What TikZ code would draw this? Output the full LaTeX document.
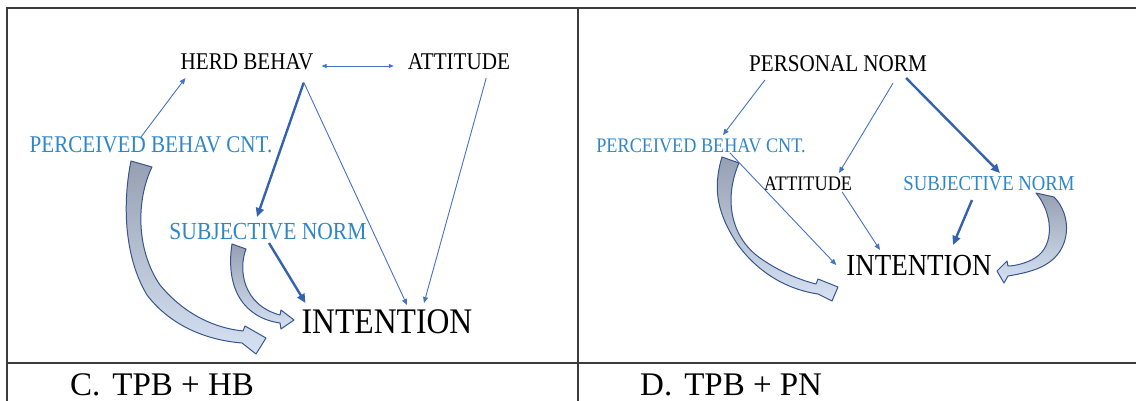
\documentclass[tikz,border=0pt]{standalone}
\usepackage{fontspec}
\setmainfont{Liberation Serif}
\newfontfamily\lblfont[FakeStretch=0.88]{Liberation Serif}
\usepackage{tikz}
\usetikzlibrary{arrows.meta, calc, backgrounds}
\definecolor{txtblue}{RGB}{46,134,200}
\definecolor{arrblue}{RGB}{68,114,196}
\definecolor{arrdark}{RGB}{52,98,174}
\definecolor{blkline}{RGB}{55,85,140}
\definecolor{blkgray}{RGB}{150,160,178}
\definecolor{blkblue}{RGB}{214,226,243}
\definecolor{framegray}{RGB}{60,60,60}
\newcommand{\lblsize}[1]{\fontsize{#1}{#1}\selectfont}
\tikzset{
    txt/.style={inner sep=0pt, anchor=base},
    blutxt/.style={txt, text=txtblue},
    frame/.style={draw=framegray, line width=1.2pt},
    arr/.style={draw=arrblue, line width=0.9pt, -{Triangle[length=6pt,width=5pt]}},
    dblarr/.style={draw=arrblue, line width=0.9pt, {Triangle[length=5pt,width=4pt]}-{Triangle[length=5pt,width=4pt]}},
    thickarr/.style={draw=arrdark, line width=2.4pt, -{Triangle[length=9pt,width=8pt]}},
    blockarr/.style={draw=blkline, line width=1pt, line join=round, top color=blkgray, bottom color=blkblue}
}

\begin{document}
\begin{tikzpicture}[x=1pt, y=-1pt]
    \useasboundingbox (0,0) rectangle (1136,401);

    % Frame
    \draw[frame] (7,401) -- (7,8) -- (1136,8);
    \draw[frame] (578,8) -- (578,401);
    \draw[frame] (7,363) -- (1136,363);

    % Panel C
    \node[txt, font={\lblfont\lblsize{24}}] (hbC) at (247,70) {HERD BEHAV};
    \node[txt, font={\lblfont\lblsize{24}}] (attC) at (459,70) {ATTITUDE};
    \node[blutxt, font={\lblfont\lblsize{24}}] (pbcC) at (151,153) {PERCEIVED BEHAV CNT.};
    \node[blutxt, font={\lblfont\lblsize{24.5}}] (snC) at (268,240) {SUBJECTIVE NORM};
    \node[txt, font={\lblfont\lblsize{36}}] (intC) at (387,333) {INTENTION};

    % Panel D
    \node[txt, font={\lblfont\lblsize{24}}] (pnD) at (838,72) {PERSONAL NORM};
    \node[blutxt, font={\lblfont\lblsize{20.7}}] (pbcD) at (701,153) {PERCEIVED BEHAV CNT.};
    \node[txt, font={\lblfont\lblsize{20.7}}] (attD) at (808,190) {ATTITUDE};
    \node[blutxt, font={\lblfont\lblsize{21.3}}] (snD) at (989,191) {SUBJECTIVE NORM};
    \node[txt, font={\lblfont\lblsize{30.6}}] (intD) at (919,275) {INTENTION};

    % Captions
    \node[txt, anchor=base west, font=\lblsize{33}] (capC) at (70,395) {C.\hspace{12pt}TPB + HB};
    \node[txt, anchor=base west, font=\lblsize{33}] (capD) at (640,395) {D.\hspace{12pt}TPB + PN};

    % Edges C
    \draw[arr] ($(pbcC.base)+(-10,-16)$) -- ($(hbC.base west)+(5,8)$);
    \draw[dblarr] ($(hbC.base east)+(8,-4)$) -- ($(attC.base west)+(-14,-4)$);
    \draw[thickarr] ($(hbC.base east)+(-10,13)$) -- ($(snC.base)+(-11,-23)$);
    \draw[arr] ($(hbC.base east)+(-10,12)$) -- ($(intC.base)+(20,-28)$);
    \draw[arr] ($(attC.base east)+(-24,8)$) -- ($(intC.base)+(37,-30)$);
    \draw[thickarr] ($(snC.base)+(1,3)$) -- ($(intC.base west)+(4,-30)$);

    % Edges D
    \draw[arr] ($(pnD.base west)+(16,8)$) -- ($(pbcD.base)+(22,-18)$);
    \draw[arr] ($(pnD.base east)+(-34,11)$) -- ($(attD.base)+(31,-17)$);
    \draw[thickarr] ($(pnD.base east)+(-21,6)$) -- ($(snD.base)+(11,-18)$);
    \draw[arr] ($(pbcD.base)+(29,0)$) -- ($(intD.base west)+(-10,-10)$);
    \draw[arr] ($(attD.base east)+(-10,2)$) -- ($(intD.base)+(-39,-25)$);
    \draw[thickarr] ($(snD.base)+(-17,9)$) -- ($(intD.base)+(34,-30)$);

    % Curved block arrows
    \begin{scope}[on background layer]
        \path[blockarr, shift={(pbcC.base)}] (-20,8) -- (1,14)
            .. controls (-15,47) and (-15,97) .. (9,132)
            .. controls (34,162) and (64,175) .. (92,178)
            -- (94,173) -- (115,185) -- (105,201) -- (91,190)
            .. controls (54,187) and (19,172) .. (-4,142)
            .. controls (-28,102) and (-28,47) .. (-20,8) -- cycle;
        \path[blockarr, shift={(snC.base)}] (-36,4) -- (-22,9)
            .. controls (-30,30) and (-25,65) .. (12,75)
            -- (13,70) -- (26,80) -- (13,89) -- (12,83)
            .. controls (-23,78) and (-43,50) .. (-36,4) -- cycle;
        \path[blockarr, shift={(pbcD.base)}] (21,4) -- (38,10)
            .. controls (24,42) and (27,82) .. (59,105)
            .. controls (79,119) and (99,127) .. (115,131)
            -- (117,126) -- (137,134) -- (131,148) -- (117,141)
            .. controls (89,137) and (59,122) .. (37,92)
            .. controls (17,62) and (11,37) .. (21,4) -- cycle;
        \path[blockarr, shift={(snD.base)}] (47,2) -- (65,6)
            .. controls (83,24) and (83,59) .. (56,74)
            .. controls (46,80) and (31,83) .. (19,85)
            -- (15,92) -- (8,80) -- (18,70) -- (19,75)
            .. controls (26,75) and (38,72) .. (46,67)
            .. controls (67,54) and (63,21) .. (47,2) -- cycle;
    \end{scope}
\end{tikzpicture}
\end{document}
